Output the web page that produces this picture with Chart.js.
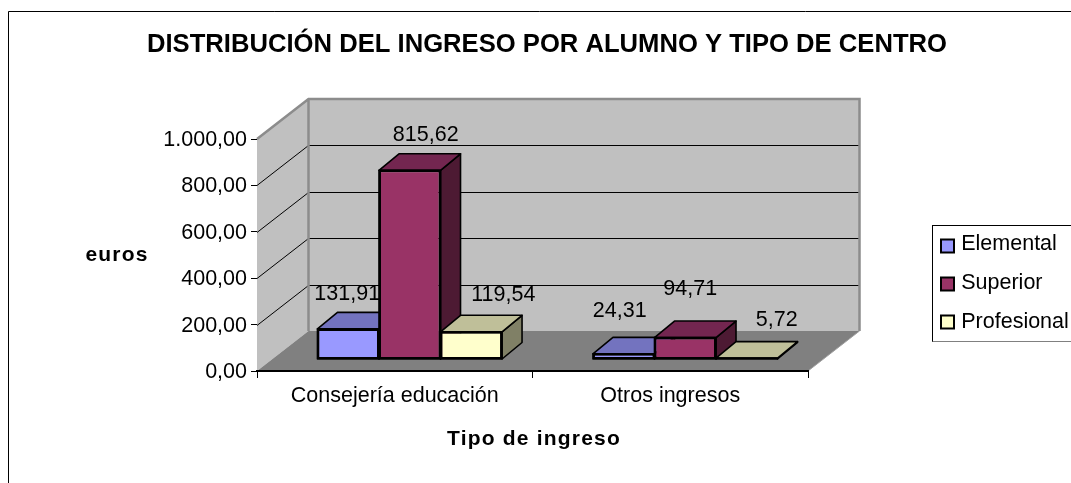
<!DOCTYPE html>
<html>
<head>
<meta charset="utf-8">
<style>html,body{margin:0;padding:0;background:#fff}#w{position:absolute;left:0;top:0;width:1071px;height:483px}</style>
<script src="https://cdn.jsdelivr.net/npm/chart.js@4"></script>
</head>
<body>
<div id="w"><canvas id="c" width="1071" height="483"></canvas></div>
<script>
const categories = ['Consejería educación', 'Otros ingresos'];
const elemental = [131.91, 24.31];
const superior = [815.62, 94.71];
const profesional = [119.54, 5.72];
const elementalLabels = ['131,91', '24,31'];
const superiorLabels = ['815,62', '94,71'];
const profesionalLabels = ['119,54', '5,72'];
const yTicks = ['0,00', '200,00', '400,00', '600,00', '800,00', '1.000,00'];
const titleText = 'DISTRIBUCIÓN DEL INGRESO POR ALUMNO Y TIPO DE CENTRO';
const xTitle = 'Tipo de ingreso';
const yTitle = 'euros';

const FF = '"Liberation Sans", Arial, sans-serif';
const WALL = {dx: 51.5, dy: -40};
const BAR = {dx: 15, dy: -11.5, ddx: 20, ddy: -16.5};
const faces = [
  {top: '#7373BF', side: '#4D4D80'},
  {top: '#732650', side: '#4D1A33'},
  {top: '#BFBF99', side: '#808066'}
];
const seriesText = [elementalLabels, superiorLabels, profesionalLabels];
// label nudges relative to bar front-top centre, [dataset][category]
const nudges = [[[-1, -35], [-4, -43]], [[16, -35], [5, -48]], [[32, -37], [30, -38]]];

function poly(ctx, pts, fill, stroke, lw) {
  ctx.beginPath();
  pts.forEach((p, i) => i ? ctx.lineTo(p[0], p[1]) : ctx.moveTo(p[0], p[1]));
  ctx.closePath();
  if (fill) { ctx.fillStyle = fill; ctx.fill(); }
  if (stroke) { ctx.strokeStyle = stroke; ctx.lineWidth = lw; ctx.lineJoin = 'round'; ctx.stroke(); }
}

const scene = {
  id: 'scene',
  afterLayout(chart) {
    const t = chart.titleBlock;
    t.left = 147; t.right = 947;
    const l = chart.legend;
    l.left = 923; l.right = 1071; l.top = 216; l.bottom = 460;
  },
  beforeDraw(chart) {
    const ctx = chart.ctx, a = chart.chartArea, y = chart.scales.y;
    ctx.save();
    ctx.fillStyle = '#fff'; ctx.fillRect(0, 0, 1071, 483);
    ctx.strokeStyle = '#000'; ctx.lineWidth = 1;
    ctx.beginPath(); ctx.moveTo(8.5, 483); ctx.lineTo(8.5, 11.5); ctx.lineTo(1071, 11.5); ctx.stroke();
    // legend frame
    ctx.strokeStyle = '#000'; ctx.lineWidth = 1;
    ctx.strokeRect(932.5, 225.5, 140, 116);
    ctx.strokeStyle = '#808080';
    ctx.beginPath(); ctx.moveTo(932.5, 341.5); ctx.lineTo(1071, 341.5); ctx.stroke();
    const x0 = a.left, x1 = a.right, b = y.getPixelForValue(0), t = y.getPixelForValue(1000);
    const dx = WALL.dx, dy = WALL.dy;
    // left and back walls
    poly(ctx, [[x0, b], [x0 + dx, b + dy], [x0 + dx, t + dy], [x0, t]], '#C0C0C0');
    poly(ctx, [[x0 + dx, b + dy], [x1 + dx, b + dy], [x1 + dx, t + dy], [x0 + dx, t + dy]], '#C0C0C0');
    // grid on walls
    ctx.strokeStyle = '#000'; ctx.lineWidth = 1;
    y.ticks.forEach(tk => {
      if (tk.value === 0 || tk.value === 1000) return;
      const p = Math.round(y.getPixelForValue(tk.value)) + 0.5;
      ctx.beginPath(); ctx.moveTo(x0, p); ctx.lineTo(x0 + dx, p + dy); ctx.lineTo(x1 + dx, p + dy); ctx.stroke();
    });
    // floor
    poly(ctx, [[x0, b], [x0 + dx, b + dy], [x1 + dx, b + dy], [x1, b]], '#808080');
    // wall edges
    ctx.strokeStyle = '#8C8C8C'; ctx.lineWidth = 2.5; ctx.lineJoin = 'miter';
    ctx.beginPath();
    ctx.moveTo(x0, t); ctx.lineTo(x0 + dx, t + dy); ctx.lineTo(x1 + dx, t + dy); ctx.lineTo(x1 + dx, b + dy);
    ctx.moveTo(x0 + dx, t + dy); ctx.lineTo(x0 + dx, b + dy);
    ctx.stroke();
    ctx.strokeStyle = '#A0A0A0'; ctx.lineWidth = 1;
    ctx.beginPath(); ctx.moveTo(x1, b); ctx.lineTo(x1 + dx, b + dy); ctx.stroke();
    ctx.restore();
  },
  beforeDatasetDraw() { return false; },
  afterDatasetsDraw(chart) {
    const ctx = chart.ctx;
    ctx.save();
    ctx.translate(BAR.dx, BAR.dy);
    chart.data.datasets.forEach((ds, i) => {
      const meta = chart.getDatasetMeta(i);
      meta.data.forEach(el => {
        const p = el.getProps(['x', 'y', 'base', 'width'], true);
        const l = p.x - p.width / 2, r = p.x + p.width / 2, u = p.y, d = p.base;
        const ex = BAR.ddx, ey = BAR.ddy;
        poly(ctx, [[r, d], [r + ex, d + ey], [r + ex, u + ey], [r, u]], faces[i].side, '#000', 1.6);
        poly(ctx, [[l, u], [r, u], [r + ex, u + ey], [l + ex, u + ey]], faces[i].top, '#000', 1.6);
      });
      meta.controller.draw();
      meta.data.forEach(el => {
        const p = el.getProps(['x', 'y', 'base', 'width'], true);
        const l = p.x - p.width / 2, r = p.x + p.width / 2;
        poly(ctx, [[l, p.base], [r, p.base], [r, p.y], [l, p.y]], null, '#000', 1.6);
      });
    });
    ctx.restore();
    // value labels
    ctx.save();
    ctx.fillStyle = '#000'; ctx.font = '21.5px ' + FF;
    ctx.textAlign = 'center'; ctx.textBaseline = 'middle';
    chart.data.datasets.forEach((ds, i) => {
      chart.getDatasetMeta(i).data.forEach((el, j) => {
        const p = el.getProps(['x', 'y'], true);
        ctx.fillText(seriesText[i][j], p.x + BAR.dx + nudges[i][j][0], p.y + BAR.dy + nudges[i][j][1]);
      });
    });
    // axis titles
    ctx.font = 'bold 21px ' + FF;
    ctx.letterSpacing = '1.2px';
    ctx.fillText(yTitle, 117, 255);
    ctx.fillText(xTitle, 534, 439);
    ctx.restore();
  },
  afterDraw(chart) {
    // legend keys at the reference's wider size, over the library's narrower keys
    const ctx = chart.ctx;
    ctx.save();
    chart.data.datasets.forEach((ds, i) => {
      const top = 239.5 + i * 38;
      ctx.fillStyle = '#fff';
      ctx.fillRect(938, top - 4, 20, 22);
      ctx.fillStyle = ds.backgroundColor;
      ctx.strokeStyle = '#000';
      ctx.lineWidth = 2;
      ctx.fillRect(941, top, 13, 13);
      ctx.strokeRect(941, top, 13, 13);
    });
    ctx.restore();
  }
};

new Chart(document.getElementById('c'), {
  type: 'bar',
  data: {
    labels: categories,
    datasets: [
      {label: 'Elemental', data: elemental, backgroundColor: '#9999FF'},
      {label: 'Superior', data: superior, backgroundColor: '#993366'},
      {label: 'Profesional', data: profesional, backgroundColor: '#FFFFCC'}
    ].map(d => Object.assign(d, {borderColor: '#000', borderWidth: 2, borderSkipped: false, barPercentage: 1, categoryPercentage: 0.67}))
  },
  options: {
    responsive: false,
    animation: false,
    layout: {padding: {left: 57, right: 263, top: 16, bottom: 31}},
    plugins: {
      title: {
        display: true, text: titleText, color: '#000',
        font: {family: FF, size: 25.7, weight: 'bold', lineHeight: 1.2},
        padding: {top: 13, bottom: 79.16}
      },
      legend: {
        position: 'chartArea', align: 'start',
        labels: {
          color: '#000', font: {family: FF, size: 21.5}, boxWidth: 10, boxHeight: 10, padding: 17.5
        }
      },
      tooltip: {enabled: false}
    },
    scales: {
      x: {
        afterFit(s) { s.height = 81; },
        border: {display: true, color: '#000', width: 2},
        grid: {drawOnChartArea: false, tickLength: 7, color: '#000'},
        ticks: {color: '#000', font: {family: FF, size: 21.5}, padding: 5, maxRotation: 0}
      },
      y: {
        min: 0, max: 1000,
        afterFit(s) { s.width = 200; },
        border: {display: false},
        grid: {drawOnChartArea: false, tickLength: 6, color: '#000'},
        ticks: {stepSize: 200, color: '#000', font: {family: FF, size: 21.5}, padding: 4, labelOffset: 1,
          callback: (v, i) => yTicks[i]}
      }
    }
  },
  plugins: [scene]
});
</script>
</body>
</html>
